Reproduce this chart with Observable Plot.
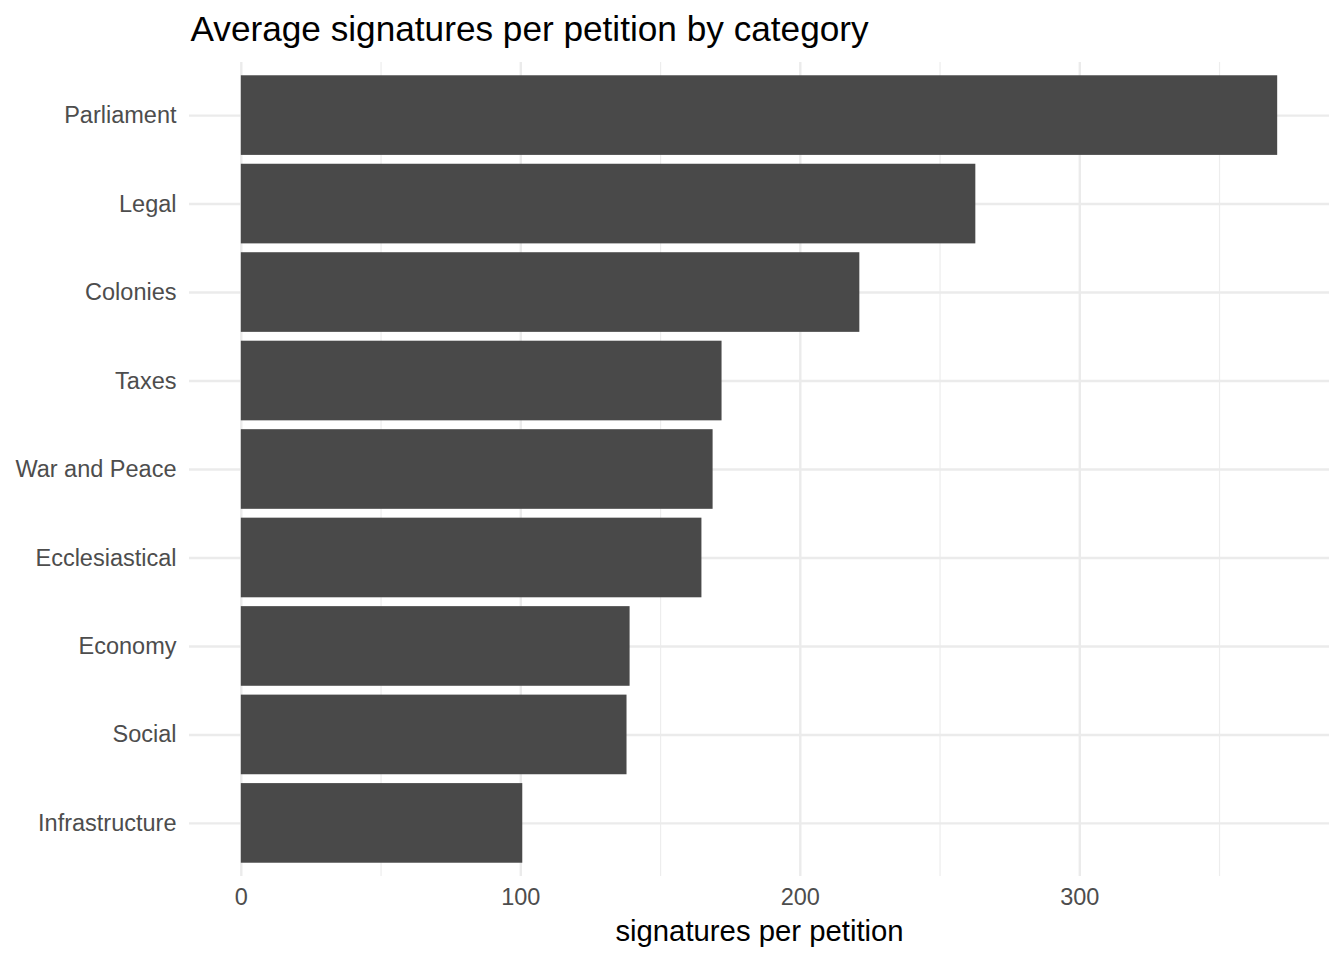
<!DOCTYPE html>
<html>
<head>
<meta charset="utf-8">
<script src="https://cdn.jsdelivr.net/npm/d3@7"></script>
<script src="https://cdn.jsdelivr.net/npm/@observablehq/plot@0.6"></script>
<style>
  html, body { margin: 0; padding: 0; background: #ffffff; }
  #chart svg { display: block; }
</style>
</head>
<body>
<div id="chart"></div>
<script>
const categories = ["Parliament", "Legal", "Colonies", "Taxes", "War and Peace", "Ecclesiastical", "Economy", "Social", "Infrastructure"];
const values = [370.8, 262.8, 221.3, 172.0, 168.8, 164.8, 139.1, 138.0, 100.7];
const xTicks = [0, 100, 200, 300];
const xMinorTicks = [50, 150, 250, 350];
const titleText = "Average signatures per petition by category";
const xLabel = "signatures per petition";

const data = categories.map((c, i) => ({category: c, value: values[i]}));
const maxV = d3.max(values);
const pad = maxV * 0.05;

const chart = Plot.plot({
  width: 1344,
  height: 960,
  marginLeft: 189,
  marginRight: 15,
  marginTop: 62,
  marginBottom: 84,
  style: {fontFamily: "'Liberation Sans', Arial, Helvetica, sans-serif", background: "#ffffff"},
  x: {domain: [-pad, maxV + pad]},
  y: {domain: categories, paddingInner: 0.1, paddingOuter: 0.15, round: false},
  marks: [
    Plot.gridX(xMinorTicks, {stroke: "#EDEDED", strokeOpacity: 1, strokeWidth: 1.2}),
    Plot.gridX(xTicks, {stroke: "#EBEBEB", strokeOpacity: 1, strokeWidth: 2.4}),
    Plot.gridY({stroke: "#EBEBEB", strokeOpacity: 1, strokeWidth: 2.4}),
    Plot.barX(data, {x: "value", y: "category", fill: "#494949"}),
    Plot.axisX(xTicks, {tickSize: 0, tickPadding: 12, fontSize: 23.5, fill: "#4D4D4D", label: null}),
    Plot.axisY({tickSize: 0, tickPadding: 13, fontSize: 23.5, fill: "#4D4D4D", label: null}),
    Plot.text([titleText], {frameAnchor: "top-left", textAnchor: "start", lineAnchor: "bottom", dx: 1, dy: -22, fontSize: 35.2, fill: "#000000"}),
    Plot.text([xLabel], {frameAnchor: "bottom", textAnchor: "middle", lineAnchor: "bottom", dy: 64, fontSize: 29.3, fill: "#000000"})
  ]
});
document.getElementById("chart").appendChild(chart);
</script>
</body>
</html>
